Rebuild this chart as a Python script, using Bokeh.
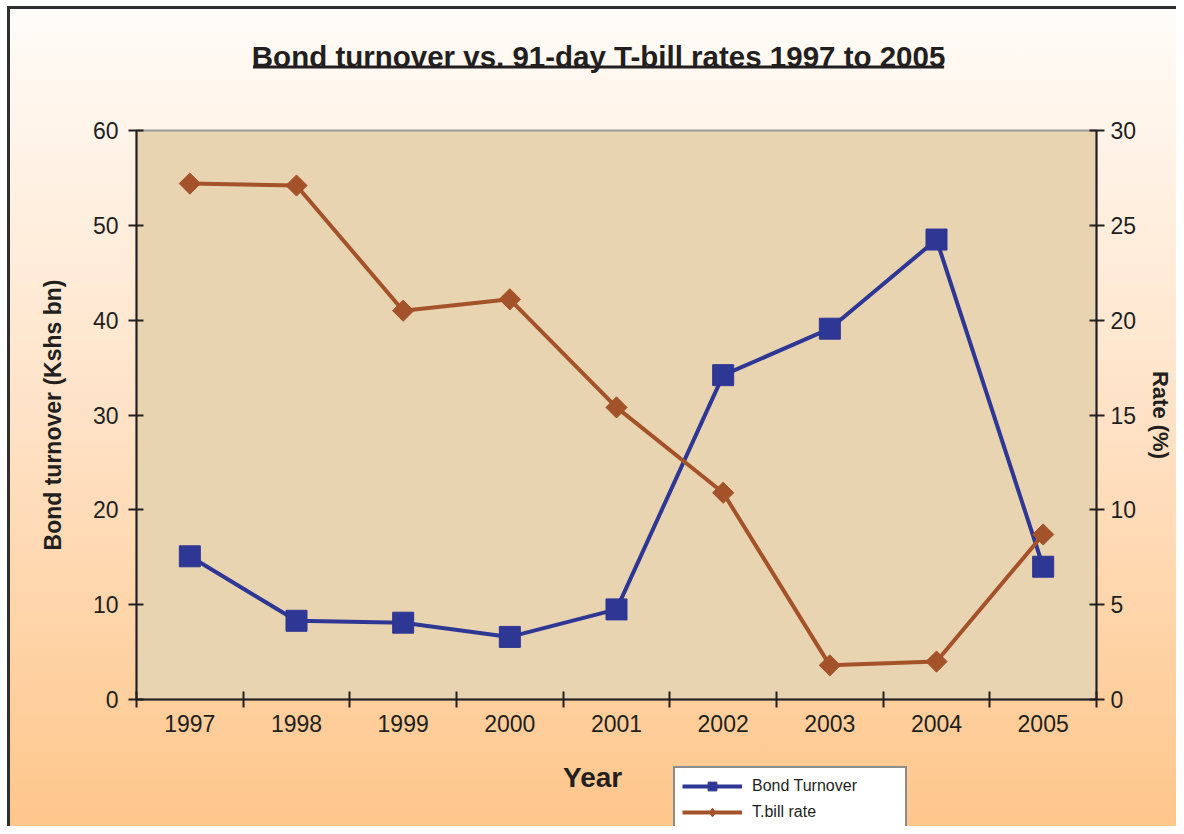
from math import pi
from bokeh.plotting import figure
from bokeh.layouts import column
from bokeh.models import Range1d, LinearAxis, FixedTicker, Legend, LegendItem
from bokeh.core.properties import value
from bokeh.embed import file_html
from bokeh.resources import INLINE

# ---- data ----
years = [1997, 1998, 1999, 2000, 2001, 2002, 2003, 2004, 2005]
bond_turnover = [15.1, 8.3, 8.1, 6.6, 9.5, 34.2, 39.1, 48.5, 14.0]
tbill_rate = [27.2, 27.1, 20.5, 21.1, 15.4, 10.9, 1.8, 2.0, 8.7]
left_ticks = [0, 10, 20, 30, 40, 50, 60]
right_ticks = [0, 5, 10, 15, 20, 25, 30]
year_labels = [str(y) for y in years]
series_names = ["Bond Turnover", "T.bill rate"]
title_text = "Bond turnover vs. 91-day T-bill rates 1997 to 2005"
x_title = "Year"
left_title = "Bond turnover (Kshs bn)"
right_title = "Rate (%)"

# ---- style / layout ----
FONT = "Liberation Sans"
BLUE = "#2f3795"
BROWN = "#a4522a"
TXT = "#231f20"
W = 1176
TOP_H, MAIN_H, BOT_H = 115, 645, 66
FRAME_L, FRAME_R = 136, 1100   # plot-frame edges (pixels); strips share them
NAN = float("nan")


def strip(height):
    # helper figure whose frame is aligned with the chart frame; ranges are in pixels
    f = figure(width=W, height=height, output_backend="svg", toolbar_location=None,
               x_range=Range1d(FRAME_L, FRAME_R), y_range=Range1d(height, 0),
               x_axis_type=None, y_axis_type=None,
               min_border_left=FRAME_L, min_border_right=W - FRAME_R,
               min_border_top=0, min_border_bottom=0)
    f.border_fill_color = None
    f.background_fill_color = None
    f.outline_line_color = None
    f.xgrid.visible = False
    f.ygrid.visible = False
    return f


# ---- title strip ----
pt = strip(TOP_H)
pt.text(x=[600], y=[56], text=[title_text], text_align="center", text_baseline="alphabetic",
        text_font=value(FONT), text_font_size="29.5px", text_font_style="bold", text_color=TXT)
pt.segment(x0=[253], y0=[66.5], x1=[947], y1=[66.5], line_color=TXT, line_width=3)

# ---- main chart ----
p = figure(width=W, height=MAIN_H, output_backend="svg", toolbar_location=None,
           x_range=Range1d(years[0] - 0.5, years[-1] + 0.5),
           y_range=Range1d(left_ticks[0], left_ticks[-1]),
           min_border_left=FRAME_L, min_border_right=W - FRAME_R,
           min_border_top=15, min_border_bottom=61)
p.extra_y_ranges = {"rate": Range1d(right_ticks[0], right_ticks[-1])}
p.border_fill_color = None
p.background_fill_color = "#e8d4b1"
p.outline_line_color = "#9a9a9a"
p.outline_line_width = 2
p.xgrid.visible = False
p.ygrid.visible = False

xa = p.xaxis[0]
xa.ticker = FixedTicker(ticks=years, minor_ticks=[y - 0.5 for y in years] + [years[-1] + 0.5])
xa.major_label_overrides = {y: s for y, s in zip(years, year_labels)}
xa.major_tick_in = 0
xa.major_tick_out = 0
xa.minor_tick_in = 8
xa.minor_tick_out = 8
xa.minor_tick_line_color = TXT
xa.minor_tick_line_width = 2
xa.axis_line_color = TXT
xa.axis_line_width = 2
xa.major_label_text_font = FONT
xa.major_label_text_font_size = "23px"
xa.major_label_text_color = TXT
xa.major_label_standoff = 7

ya = p.yaxis[0]
ya.ticker = FixedTicker(ticks=left_ticks, minor_ticks=[])
ra = LinearAxis(y_range_name="rate", ticker=FixedTicker(ticks=right_ticks, minor_ticks=[]))
p.add_layout(ra, "right")
for ax, title, lstand, tstand, tsize in [(ya, left_title, 10, 24, "23px"),
                                         (ra, right_title, 6, 9, "22px")]:
    ax.major_tick_in = 7
    ax.major_tick_out = 8
    ax.major_tick_line_color = TXT
    ax.major_tick_line_width = 2
    ax.axis_line_color = TXT
    ax.axis_line_width = 2
    ax.major_label_text_font = FONT
    ax.major_label_text_font_size = "23px"
    ax.major_label_text_color = TXT
    ax.major_label_standoff = lstand
    ax.axis_label = title
    ax.axis_label_text_font = FONT
    ax.axis_label_text_font_size = tsize
    ax.axis_label_text_font_style = "bold"
    ax.axis_label_text_color = TXT
    ax.axis_label_standoff = tstand

p.line(years, bond_turnover, line_color=BLUE, line_width=4)
p.scatter(years, bond_turnover, marker="square", size=21, fill_color=BLUE, line_color=BLUE)
p.line(years, tbill_rate, y_range_name="rate", line_color=BROWN, line_width=4)
p.scatter(years, tbill_rate, y_range_name="rate", marker="square", angle=pi / 4,
          size=15, fill_color=BROWN, line_color=BROWN)

# ---- bottom strip: x title + legend ----
pb = strip(BOT_H)
pb.text(x=[594], y=[17], text=[x_title], text_align="center", text_baseline="middle",
        text_font=value(FONT), text_font_size="28px", text_font_style="bold", text_color=TXT)
# legend proxies (same styles as the chart series, no visible data)
lb1 = pb.line([NAN], [NAN], line_color=BLUE, line_width=4)
mb1 = pb.scatter([NAN], [NAN], marker="square", size=12, fill_color=BLUE, line_color=BLUE)
lb2 = pb.line([NAN], [NAN], line_color=BROWN, line_width=4)
mb2 = pb.scatter([NAN], [NAN], marker="diamond", size=12, fill_color=BROWN, line_color=BROWN)
legend = Legend(items=[LegendItem(label=series_names[0], renderers=[lb1, mb1]),
                       LegendItem(label=series_names[1], renderers=[lb2, mb2])],
                location=(673 - FRAME_L, -6), orientation="vertical",
                glyph_width=60, glyph_height=22, label_height=22, spacing=4, padding=7,
                label_width=146, label_standoff=10,
                label_text_font=FONT, label_text_font_size="16px", label_text_color=TXT,
                border_line_color="#1a1a1a", border_line_width=2,
                background_fill_color="white", background_fill_alpha=1)
pb.add_layout(legend, "center")

layout = column(pt, p, pb, spacing=0)
layout.styles = {
    "background": ("linear-gradient(#2f2f2f,#2f2f2f) 7px 6px / 3px 100% no-repeat, "
                   "linear-gradient(#2f2f2f,#2f2f2f) 7px 6px / 100% 3px no-repeat, "
                   "linear-gradient(to bottom, #fffcf8 0%, #ffe3c8 48%, #fec68a 100%) 8px 7px / 100% 100% no-repeat, "
                   "#ffffff"),
}

open("out.html", "w").write(file_html(layout, INLINE))
